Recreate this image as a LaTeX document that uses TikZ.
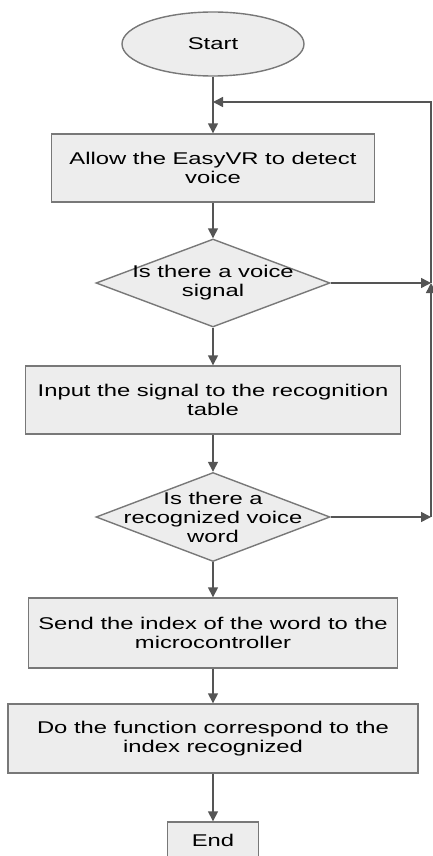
\documentclass[tikz,border=0pt]{standalone}
\usepackage{fontspec}
\setmainfont{Liberation Sans}[FakeStretch=1.4]
\usetikzlibrary{arrows.meta,shapes.geometric}
\definecolor{flowline}{RGB}{85,85,85}
\definecolor{flowedge}{RGB}{120,120,120}
\definecolor{flowfill}{RGB}{237,237,237}
\tikzset{every picture/.style={line width=0.75pt}}
\tikzset{
flowbox/.style={draw=flowedge, line width=1.4pt, fill=flowfill, rectangle, align=center, inner sep=0pt},
terminal/.style={flowbox, ellipse},
decision/.style={flowbox, diamond},
flowarrow/.style={draw=flowline, line width=1.5pt, -{Triangle[length=10pt,width=10pt]}},
every label/.style={align=center, inner sep=0pt}}

\begin{document}
\begin{tikzpicture}[x=1pt,y=1pt,yscale=-1,xscale=1,font=\fontsize{17}{19}\selectfont]
\useasboundingbox (0,0) rectangle (433,856);

%Shape: Ellipse [id:start]
\node [terminal, minimum width=182pt, minimum height=64pt] (start) at (213,44) {Start};
%Shape: Rectangle [id:detect]
\node [flowbox, minimum width=323pt, minimum height=68pt] (detect) at (213,168) {Allow the EasyVR to detect\\voice};
%Shape: Diamond [id:voice]
\node [decision, minimum width=234pt, minimum height=88pt, label=center:{Is there a voice\\signal}] (voice) at (213,283) {};
%Shape: Rectangle [id:table]
\node [flowbox, minimum width=375pt, minimum height=68pt] (table) at (213,400) {Input the signal to the recognition\\table};
%Shape: Diamond [id:word]
\node [decision, minimum width=234pt, minimum height=89pt, label=center:{Is there a\\recognized voice\\word}] (word) at (213,517) {};
%Shape: Rectangle [id:send]
\node [flowbox, minimum width=369pt, minimum height=70pt] (send) at (213,633) {Send the index of the word to the\\microcontroller};
%Shape: Rectangle [id:function]
\node [flowbox, minimum width=410pt, minimum height=69pt] (function) at (213,738.5) {Do the function correspond to the\\index recognized};
%Shape: Rectangle [id:finish]
\node [flowbox, minimum width=91pt, minimum height=36pt] (finish) at (213,840) {End};

%Loop corners
\coordinate (merge) at (213,102);
\coordinate (loopa) at (431,283);
\coordinate (loopb) at (431,517);

%Straight Lines
\draw [flowarrow] (start) -- (detect);
\draw [flowarrow] (detect) -- (voice);
\draw [flowarrow] (voice) -- (table);
\draw [flowarrow] (table) -- (word);
\draw [flowarrow] (word) -- (send);
\draw [flowarrow] (send) -- (function);
\draw [flowarrow] (function) -- (finish);
%Feedback Lines
\draw [flowarrow] (voice.east) -- (loopa);
\draw [flowarrow] (word.east) -- (loopb);
\draw [flowarrow] (loopb) -- (loopa);
\draw [flowarrow] (loopa) |- (merge);
\end{tikzpicture}
\end{document}
